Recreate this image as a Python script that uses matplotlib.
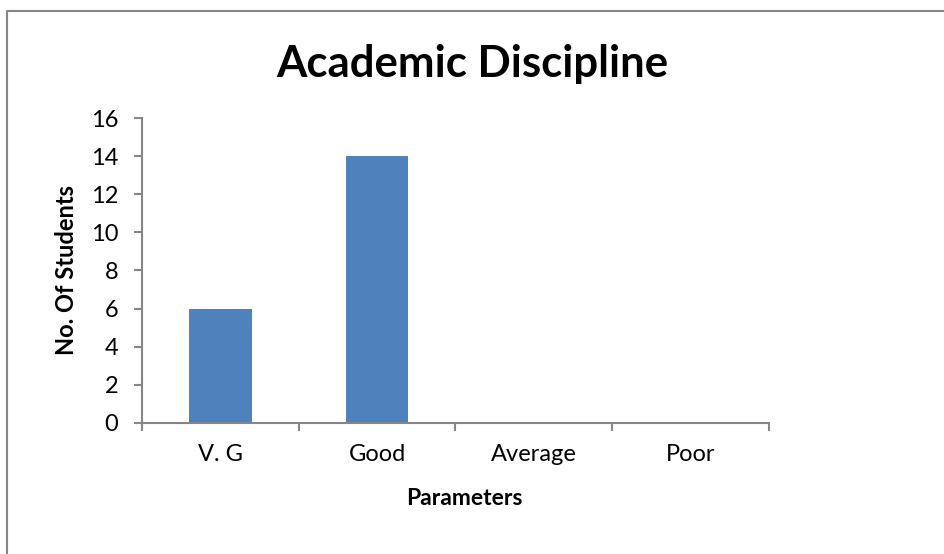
import matplotlib
matplotlib.use("Agg")
from matplotlib import pyplot as plt
import numpy as np

categories = ["V. G", "Good", "Average", "Poor"]
students = [6, 14, 0, 0]
yticks = [0, 2, 4, 6, 8, 10, 12, 14, 16]

plt.rcParams['font.family'] = ['Lato', 'DejaVu Sans']
gray = "#868686"

fig = plt.figure(figsize=(9.44, 5.54), dpi=100)
ax = fig.add_axes([0.1504, 0.2365, 0.6642, 0.5505])

x = np.arange(len(categories))
ax.bar(x, students, width=0.4, color="#4F81BD")

ax.set_xlim(-0.5, len(categories) - 0.5)
ax.set_ylim(0, 16)
ax.set_yticks(yticks)

# labels in the middle of each category, tick marks on the boundaries
ax.set_xticks(np.arange(len(categories) + 1) - 0.5)
ax.set_xticklabels([])
ax.set_xticks(x, minor=True)
ax.set_xticklabels(categories, minor=True)
ax.tick_params(axis="x", which="minor", length=0, pad=15, labelsize=17)
ax.tick_params(axis="x", which="major", length=6, color=gray, width=1.5)
ax.tick_params(axis="y", length=6, color=gray, width=1.5, labelsize=17, pad=11)

for s in ["top", "right"]:
    ax.spines[s].set_visible(False)
for s in ["left", "bottom"]:
    ax.spines[s].set_color(gray)
    ax.spines[s].set_linewidth(1.5)

fig.text(0.5, 1 - 77 / 554, "Academic Discipline", fontsize=31.5, fontweight="bold",
         ha="center", va="baseline")
fig.text(0.4915, 1 - 505 / 554, "Parameters", fontsize=16.5, fontweight="bold",
         ha="center", va="baseline")
fig.text(67 / 944, 1 - 270 / 554, "No. Of Students", fontsize=17, fontweight="bold",
         ha="center", va="center", rotation=90)

# chart frame (only top and left edges are inside the picture)
fig.add_artist(plt.Line2D([7 / 944, 7 / 944, 1], [0, 1 - 11 / 554, 1 - 11 / 554],
                          transform=fig.transFigure, color=gray, linewidth=1.5))

fig.savefig("out.png", dpi=100)
